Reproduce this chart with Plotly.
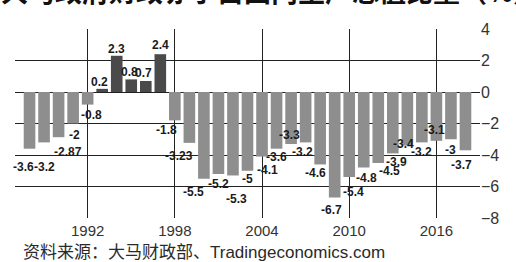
import plotly.graph_objects as go

# ---- data ----
years = list(range(1988, 2019))
deficit_pct = [-3.6, -3.2, -2.87, -2, -0.8, 0.2, 2.3, 0.8, 0.7, 2.4,
               -1.8, -3.23, -5.5, -5.2, -5.3, -5, -4.1, -3.6, -3.3, -3.2,
               -4.6, -6.7, -5.4, -4.8, -4.5, -3.9, -3.4, -3.2, -3.1, -3, -3.7]
value_labels = ["-3.6", "-3.2", "-2.87", "-2", "-0.8", "0.2", "2.3", "0.8", "0.7", "2.4",
                "-1.8", "-3.23", "-5.5", "-5.2", "-5.3", "-5", "-4.1", "-3.6", "-3.3", "-3.2",
                "-4.6", "-6.7", "-5.4", "-4.8", "-4.5", "-3.9", "-3.4", "-3.2", "-3.1", "-3", "-3.7"]
x_tick_years = [1992, 1998, 2004, 2010, 2016]
y_ticks = [4, 2, 0, -2, -4, -6, -8]
title_text = "大马政府财政赤字占国内生产总值比重（%）"
source_text = "资料来源：大马财政部、Tradingeconomics.com"

# ---- label placement (pixel offsets from bar end; styling only) ----
label_dx = [-6, 0, 9, 1, 4, -3, 0, -2, -2, 0,
            -8, -10, -10, 0, 4, 0, 5, 0, -2, -3,
            -5, -3, 4, 3, 11, 4, -4, 0, -2, 0, -4]
label_dy = [18, 25, 15, 11, 10, -7, -7, -7, -8, -9,
            10, 13, 13, 10, 24, 8, 13, 8, -9, 10,
            9, 12, 15, 10, 8, 9, -2, 10, -11, 11, 15]

POS_COLOR = "#4a4a4a"
NEG_COLOR = "#8e8e8e"
GRID = "#222222"

colors = [POS_COLOR if v > 0 else NEG_COLOR for v in deficit_pct]

fig = go.Figure()
fig.add_trace(go.Bar(x=years, y=deficit_pct, marker=dict(color=colors, line=dict(width=0)),
                     width=0.8, hoverinfo="x+y"))

label_font = dict(family="Liberation Sans, Arial, sans-serif",
                  size=12, color="#1a1a1a", weight="bold")
for yr, v, lab, dx, dy in zip(years, deficit_pct, value_labels, label_dx, label_dy):
    fig.add_annotation(x=yr, y=v, text=lab, showarrow=False,
                       xshift=dx, yshift=-dy, xanchor="center", yanchor="middle",
                       font=label_font)

# title (partially cut off at the top, as in the reference)
fig.add_annotation(xref="paper", yref="paper", x=-0.035, y=1.205, xanchor="left", yanchor="middle",
                   text="<b>" + title_text + "</b>", showarrow=False,
                   font=dict(family="Noto Sans CJK SC, sans-serif", size=27, color="#111111"))
# source
fig.add_annotation(xref="paper", yref="paper", x=0.012, y=-0.18, xanchor="left", yanchor="middle",
                   text=source_text, showarrow=False,
                   font=dict(family="Liberation Sans, Noto Sans CJK SC, sans-serif", size=17, color="#2a2a2a"))

fig.update_layout(
    width=516, height=262,
    margin=dict(l=15, r=36, t=29, b=44),
    paper_bgcolor="white", plot_bgcolor="white",
    showlegend=False, bargap=0.2,
    template="none",
)
fig.update_xaxes(range=[1987, 2019], tickvals=x_tick_years, ticktext=[str(y) for y in x_tick_years],
                 showgrid=True, gridcolor=GRID, gridwidth=1.2, zeroline=False, showline=False,
                 ticks="", ticklabelstandoff=2,
                 tickfont=dict(family="Liberation Sans, sans-serif", size=15, color="#333333"))
fig.update_yaxes(range=[-8, 4], tickvals=y_ticks, side="right",
                 showgrid=True, gridcolor=GRID, gridwidth=1.2, zeroline=False, showline=False,
                 ticks="", tickfont=dict(family="Liberation Sans, sans-serif", size=16, color="#333333"))

fig.write_html("out.html", config={"displayModeBar": False},
               post_script="document.body.style.margin='0';")
